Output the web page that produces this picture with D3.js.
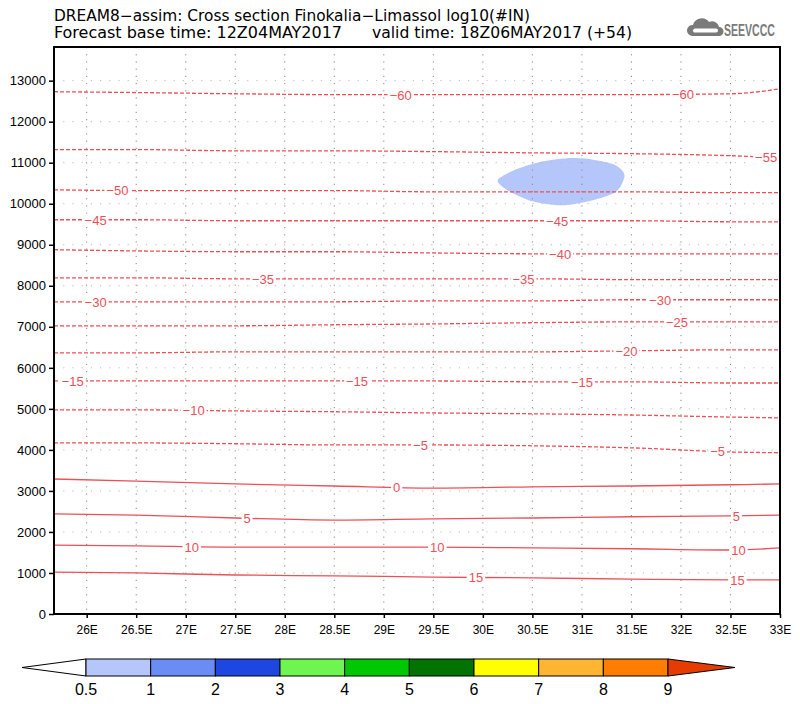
<!DOCTYPE html>
<html><head><meta charset="utf-8">
<script src="https://cdn.jsdelivr.net/npm/d3@7"></script>
<style>body{margin:0;background:#fff}</style></head>
<body><svg id="c" width="800" height="704"></svg>
<script>
// ---- data ----
const lons = [25.67, 26.5, 27.5, 28.5, 29.5, 30.5, 31.5, 32.5, 33.0];
const levels = [-60, -55, -50, -45, -40, -35, -30, -25, -20, -15, -10, -5, 0, 5, 10, 15];
const hM60 = [12730, 12710, 12680, 12660, 12660, 12660, 12660, 12680, 12800];
const hM55 = [11320, 11320, 11290, 11290, 11270, 11240, 11220, 11170, 11120];
const hM50 = [10340, 10320, 10320, 10320, 10290, 10290, 10290, 10270, 10270];
const hM45 = [9610, 9610, 9585, 9585, 9585, 9585, 9585, 9560, 9560];
const hM40 = [8880, 8850, 8830, 8830, 8800, 8780, 8780, 8780, 8780];
const hM35 = [8195, 8195, 8170, 8170, 8170, 8170, 8150, 8150, 8150];
const hM30 = [7610, 7610, 7610, 7610, 7630, 7630, 7660, 7660, 7660];
const hM25 = [7025, 7025, 7025, 7050, 7070, 7100, 7120, 7120, 7120];
const hM20 = [6365, 6365, 6390, 6390, 6390, 6390, 6415, 6440, 6440];
const hM15 = [5680, 5680, 5680, 5680, 5680, 5660, 5660, 5630, 5630];
const hM10 = [4975, 4975, 4950, 4930, 4900, 4880, 4850, 4800, 4780];
const hM5  = [4170, 4170, 4150, 4120, 4120, 4100, 4050, 3950, 3930];
const h0   = [3290, 3240, 3170, 3120, 3070, 3100, 3120, 3150, 3170];
const h5   = [2440, 2410, 2340, 2290, 2320, 2340, 2370, 2390, 2410];
const h10  = [1680, 1660, 1630, 1630, 1630, 1610, 1590, 1560, 1610];
const h15  = [1020, 1000, 950, 930, 900, 880, 850, 830, 830];
const contourHeights = [hM60, hM55, hM50, hM45, hM40, hM35, hM30, hM25, hM20, hM15, hM10, hM5, h0, h5, h10, h15];
const labelLons = [[29.17, 32.02], [32.86], [26.31], [26.09, 30.75], [30.78], [27.78, 30.41], [26.09, 31.79],
  [31.96], [31.45], [25.86, 28.73, 31.0], [27.08], [29.37, 32.37], [29.13], [27.62, 32.56], [27.06, 29.54, 32.58], [29.93, 32.57]];
// shaded area (log10 #IN 0.5-1)
const blobLon = [30.15, 30.35, 30.6, 30.85, 31.1, 31.33, 31.43, 31.35, 31.1, 30.8, 30.5, 30.25];
const blobHgt = [10580, 10850, 11030, 11110, 11080, 10950, 10700, 10300, 10080, 9960, 10060, 10330];
const xTicks = [26, 26.5, 27, 27.5, 28, 28.5, 29, 29.5, 30, 30.5, 31, 31.5, 32, 32.5, 33];
const yTicks = [0, 1000, 2000, 3000, 4000, 5000, 6000, 7000, 8000, 9000, 10000, 11000, 12000, 13000];
const cbBreaks = ["0.5", "1", "2", "3", "4", "5", "6", "7", "8", "9"];
const cbColors = ["#b4c6fa", "#6a8cf5", "#1e46e0", "#6ef550", "#00c800", "#007300", "#ffff00", "#ffb432", "#ff7d00", "#e63c00"];

// ---- drawing ----
const svg = d3.select("#c");
const L = 54, R = 780, T = 47, B = 614;
const x = d3.scaleLinear().domain([25.67, 33]).range([L, R]);
const y = d3.scaleLinear().domain([0, 13820]).range([B, T]);
const red = "#ec5058";
const font = "'Liberation Sans Narrow','Liberation Sans',Arial,sans-serif";

svg.append("defs").append("clipPath").attr("id", "pc").append("rect")
  .attr("x", L).attr("y", T).attr("width", R - L).attr("height", B - T);
const plot = svg.append("g").attr("clip-path", "url(#pc)");

// shaded blob
const blobPts = blobLon.map((d, i) => [x(d), y(blobHgt[i])]);
plot.append("path").attr("d", d3.line().curve(d3.curveCardinalClosed.tension(0.2))(blobPts))
  .attr("fill", cbColors[0]);

// grid
plot.selectAll(".vg").data(xTicks).join("line")
  .attr("x1", d => x(d)).attr("x2", d => x(d)).attr("y1", T).attr("y2", B)
  .attr("stroke", "#888").attr("stroke-width", 1).attr("stroke-dasharray", "1.2,6");
plot.selectAll(".hg").data(yTicks).join("line")
  .attr("x1", L).attr("x2", R).attr("y1", d => y(d)).attr("y2", d => y(d))
  .attr("stroke", "#bbb").attr("stroke-width", 1).attr("stroke-dasharray", "1.2,8");

// contours
const line = d3.line().curve(d3.curveMonotoneX);
levels.forEach((lv, i) => {
  const hs = contourHeights[i];
  plot.append("path").attr("d", line(lons.map((l, j) => [x(l), y(hs[j])])))
    .attr("fill", "none").attr("stroke", red).attr("stroke-width", 1.3)
    .attr("stroke-dasharray", lv < 0 ? "4,2" : null);
});
// contour labels
levels.forEach((lv, i) => {
  const interp = d3.scaleLinear().domain(lons).range(contourHeights[i]);
  labelLons[i].forEach(ll => {
    const cx = x(ll), cy = y(interp(ll));
    const g = plot.append("g");
    const t = g.append("text").attr("x", cx).attr("y", cy + 5).attr("text-anchor", "middle")
      .attr("font-family", "'Liberation Sans',Arial,sans-serif").attr("font-size", 13).attr("fill", red)
      .text(lv < 0 ? "\u2212" + Math.abs(lv) : lv);
    const bb = t.node().getBBox();
    g.insert("rect", "text").attr("x", bb.x - 2).attr("y", cy - 6).attr("width", bb.width + 4).attr("height", 12)
      .attr("fill", "#fff");
  });
});

// frame
svg.append("rect").attr("x", L).attr("y", T).attr("width", R - L).attr("height", B - T)
  .attr("fill", "none").attr("stroke", "#000").attr("stroke-width", 2);

// axes
const ya = svg.append("g").attr("transform", `translate(${L},0)`)
  .call(d3.axisLeft(y).tickValues(yTicks).tickSize(5).tickPadding(3).tickFormat(d3.format("d")));
ya.select(".domain").remove();
ya.selectAll("line").attr("stroke-width", 1.5);
ya.selectAll("text").attr("font-family", font).attr("font-size", 13).attr("fill", "#000");
const xa = svg.append("g").attr("transform", `translate(0,${B})`)
  .call(d3.axisBottom(x).tickValues(xTicks).tickSize(4).tickPadding(7).tickFormat(d => d + "E"));
xa.select(".domain").remove();
xa.selectAll("line").attr("stroke-width", 1.5);
xa.selectAll("text").attr("font-family", font).attr("font-size", 12).attr("fill", "#000");

// titles
const tf = "'DejaVu Sans Condensed','Liberation Sans Narrow',sans-serif";
svg.append("text").attr("x", 54).attr("y", 21).attr("font-family", tf).attr("font-size", 15)
  .attr("textLength", 476).attr("lengthAdjust", "spacingAndGlyphs")
  .text("DREAM8\u2212assim: Cross section Finokalia\u2212Limassol log10(#IN)");
svg.append("text").attr("x", 54).attr("y", 38).attr("font-family", tf).attr("font-size", 15)
  .attr("textLength", 288).attr("lengthAdjust", "spacingAndGlyphs")
  .text("Forecast base time: 12Z04MAY2017");
svg.append("text").attr("x", 372).attr("y", 38).attr("font-family", tf).attr("font-size", 15)
  .attr("textLength", 260).attr("lengthAdjust", "spacingAndGlyphs")
  .text("valid time: 18Z06MAY2017 (+54)");

// logo
const lg = svg.append("g").attr("fill", "#7a7a7a");
lg.append("path").attr("d", "M692,36 a5.5,5.5 0 0 1 1,-11 a9,9 0 0 1 16,-3 a7,7 0 0 1 10,5 a4.5,4.5 0 0 1 0,9 z");
lg.append("path").attr("d", "M694,32.5 a2.2,2.2 0 0 1 1,-4 h21 a2,2 0 0 1 0,4 z").attr("fill", "#fff");
lg.append("g").attr("transform", "translate(724,36) scale(0.62,1)")
  .append("text").attr("x", 0).attr("y", 0).attr("font-family", "'Liberation Sans',Arial,sans-serif")
  .attr("font-weight", "bold").attr("font-size", 17).text("SEEVCCC");

// colorbar
const cx0 = 86, cw = (668 - 86) / 9, cyT = 659, cyB = 676;
const cb = svg.append("g");
cb.append("path").attr("d", `M${cx0},${cyT} L22,${(cyT + cyB) / 2} L${cx0},${cyB} Z`)
  .attr("fill", "#fff").attr("stroke", "#000").attr("stroke-width", 1);
cb.selectAll(".cbr").data(cbColors.slice(0, 9)).join("rect")
  .attr("x", (d, i) => cx0 + i * cw).attr("y", cyT).attr("width", cw).attr("height", cyB - cyT)
  .attr("fill", d => d).attr("stroke", "#000").attr("stroke-width", 1);
cb.append("path").attr("d", `M${cx0 + 9 * cw},${cyT} L735,${(cyT + cyB) / 2} L${cx0 + 9 * cw},${cyB} Z`)
  .attr("fill", cbColors[9]).attr("stroke", "#000").attr("stroke-width", 1);
cb.selectAll(".cbl").data(cbBreaks).join("text")
  .attr("x", (d, i) => cx0 + i * cw).attr("y", 695).attr("text-anchor", "middle")
  .attr("font-family", font).attr("font-size", 16).text(d => d);
</script></body></html>
